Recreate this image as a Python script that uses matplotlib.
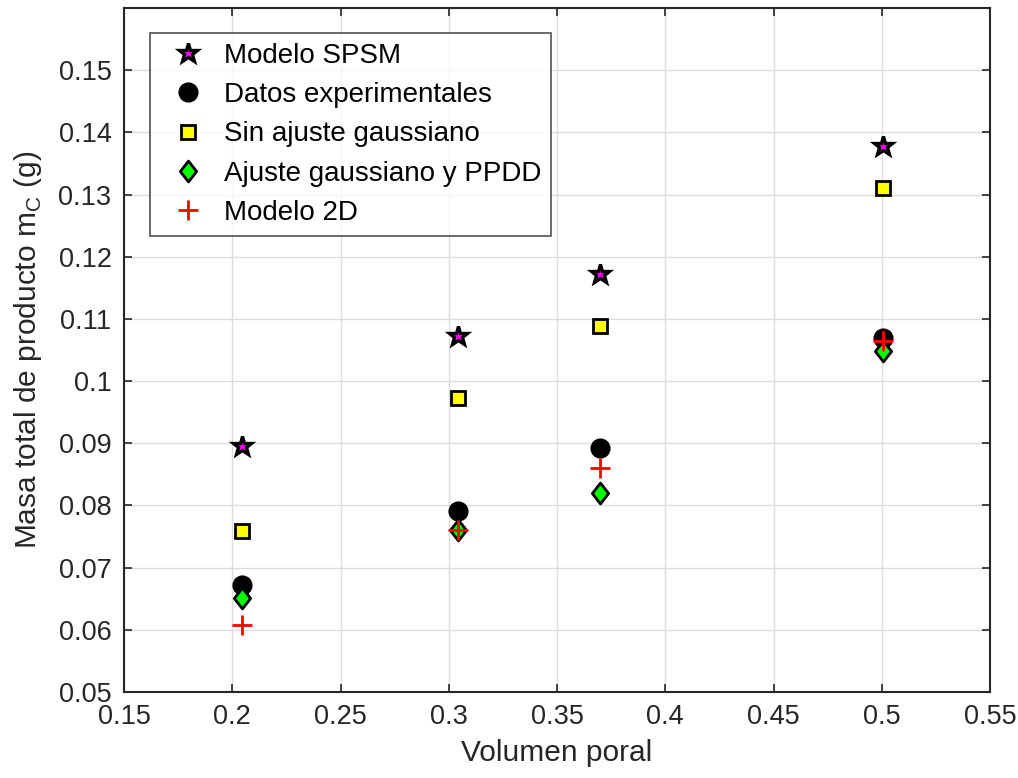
import matplotlib
matplotlib.use("Agg")
import matplotlib.pyplot as plt
from matplotlib.path import Path
from matplotlib.markers import MarkerStyle

plt.rcParams['font.family'] = ['Liberation Sans', 'DejaVu Sans']

x_spsm = [0.2046, 0.3044, 0.3700, 0.5007]
y_spsm = [0.0895, 0.1073, 0.1173, 0.1378]
x_exp = [0.2046, 0.3044, 0.3700, 0.5007]
y_exp = [0.0672, 0.0791, 0.0893, 0.1070]
x_sin = [0.2046, 0.3044, 0.3700, 0.5007]
y_sin = [0.0759, 0.0973, 0.1089, 0.1311]
x_aj = [0.2046, 0.3044, 0.3700, 0.5007]
y_aj = [0.0651, 0.0761, 0.0820, 0.1049]
x_2d = [0.2046, 0.3044, 0.3700, 0.5007]
y_2d = [0.0608, 0.0761, 0.0861, 0.1064]

labels = ["Modelo SPSM", "Datos experimentales", "Sin ajuste gaussiano",
          "Ajuste gaussiano y PPDD", "Modelo 2D"]
xticks = [0.15, 0.2, 0.25, 0.3, 0.35, 0.4, 0.45, 0.5, 0.55]
xticklabels = ["0.15", "0.2", "0.25", "0.3", "0.35", "0.4", "0.45", "0.5", "0.55"]
yticks = [0.05, 0.06, 0.07, 0.08, 0.09, 0.1, 0.11, 0.12, 0.13, 0.14, 0.15]
yticklabels = ["0.05", "0.06", "0.07", "0.08", "0.09", "0.1", "0.11", "0.12", "0.13", "0.14", "0.15"]

diamond = Path([(0, 1), (0.78, 0), (0, -1), (-0.78, 0), (0, 1)],
               [Path.MOVETO, Path.LINETO, Path.LINETO, Path.LINETO, Path.CLOSEPOLY])
star = MarkerStyle('*', joinstyle='miter')
dmk = MarkerStyle(diamond, joinstyle='miter')
smk = MarkerStyle('s', joinstyle='miter')

fig = plt.figure(figsize=(10.18, 7.78), dpi=100)
ax = fig.add_axes([124/1018, 1-692/778, (990-124)/1018, (692-8)/778])

ax.plot(x_spsm, y_spsm, ls='none', marker=star, ms=14, mfc='#ff00ff', mec='k', mew=2.4, label=labels[0], zorder=3)
ax.plot(x_exp, y_exp, ls='none', marker='o', ms=13.5, mfc='k', mec='k', label=labels[1], zorder=3)
ax.plot(x_sin, y_sin, ls='none', marker=smk, ms=10, mfc='#ffff00', mec='k', mew=2, label=labels[2], zorder=3)
ax.plot(x_aj, y_aj, ls='none', marker=dmk, ms=15, mfc='#00ff00', mec='k', mew=2, label=labels[3], zorder=4)
ax.plot(x_2d, y_2d, ls='none', marker='+', ms=14, mec='#ff0000', mew=2, label=labels[4], zorder=5)

ax.set_xlim(0.15, 0.55)
ax.set_ylim(0.05, 0.16)
ax.set_xticks(xticks)
ax.set_xticklabels(xticklabels)
ax.set_yticks(yticks)
ax.set_yticklabels(yticklabels)
ax.grid(True, color='#dcdcdc', lw=1)
ax.set_axisbelow(True)
ax.tick_params(direction='in', top=True, right=True, length=6, width=1.2,
               labelsize=19.5, colors='#262626', pad=9)
for s in ax.spines.values():
    s.set_color('#262626')
    s.set_linewidth(1.5)

ax.set_xlabel('Volumen poral', fontsize=21.5, color='#262626', labelpad=6)
ax.set_ylabel(r'Masa total de producto m$_\mathregular{C}$ (g)', fontsize=21.5, color='#262626', labelpad=10)

leg = ax.legend(loc='upper left', bbox_to_anchor=((150-124)/866, (692-33)/684),
                fontsize=20, frameon=True, fancybox=False, edgecolor='#262626',
                borderpad=0.35, labelspacing=0.48, handletextpad=0.3, borderaxespad=0,
                handlelength=2.0)
leg.get_frame().set_linewidth(1.2)

fig.savefig('out.png', dpi=100)
